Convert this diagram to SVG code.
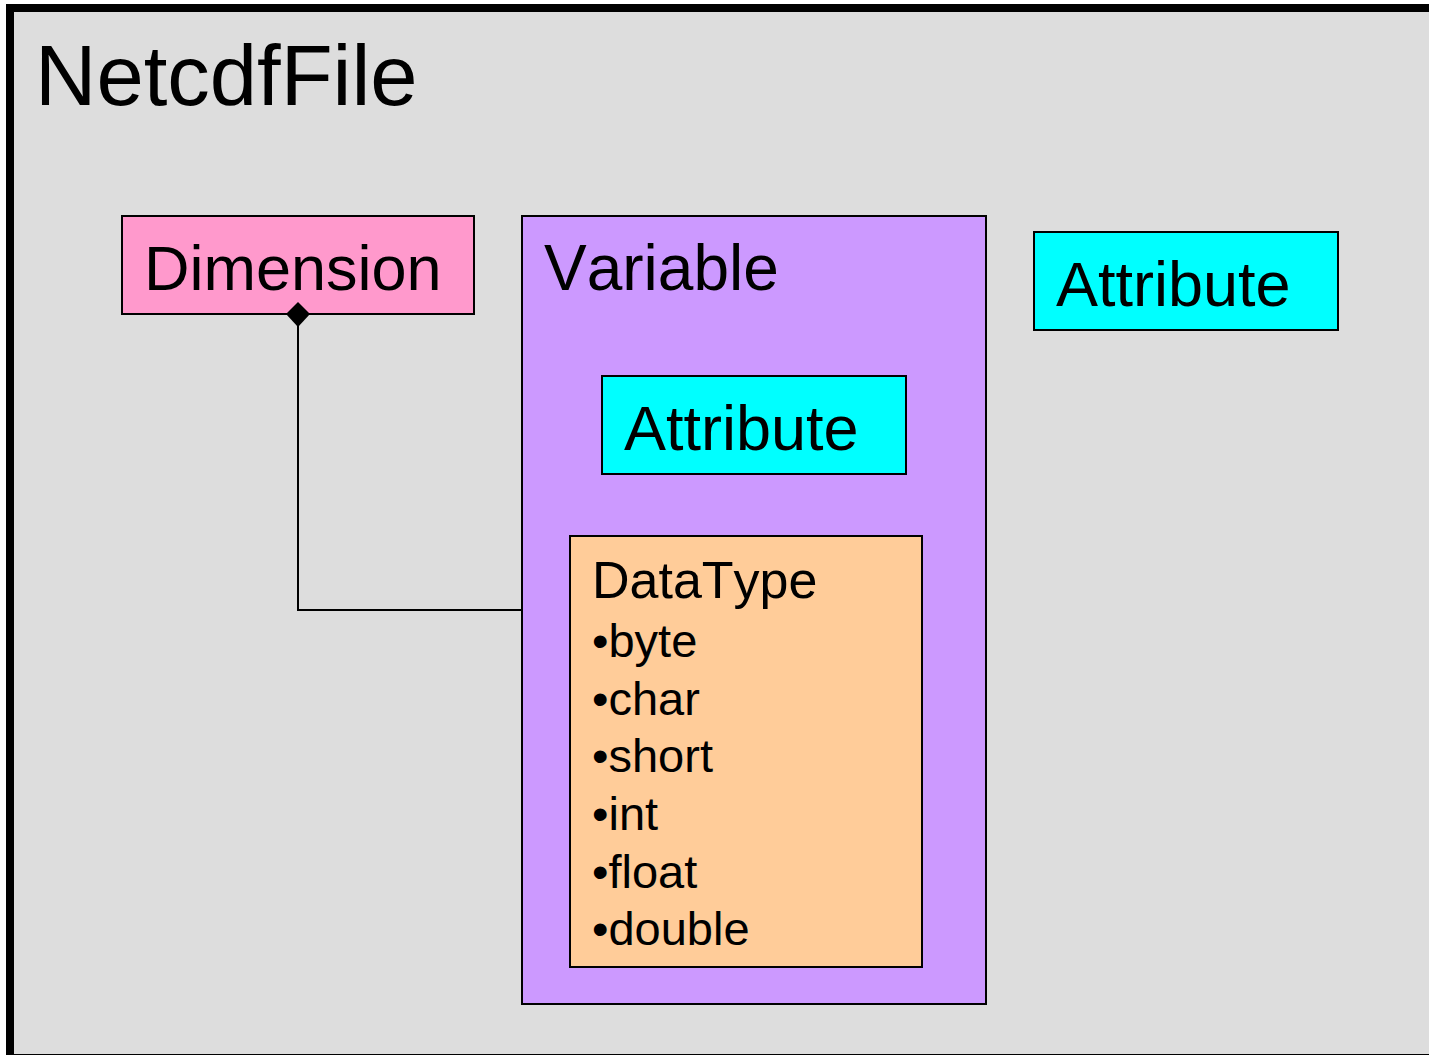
<svg xmlns="http://www.w3.org/2000/svg" width="1429" height="1055" viewBox="0 0 1429 1055">
<style>
text{font-family:"Liberation Sans",Arial,sans-serif;fill:#000;font-kerning:none}
.box{stroke:#000;stroke-width:2}
.t63{font-size:63px}
.t47{font-size:47px}
</style>
<g id="netcdffile">
<rect x="10" y="8" width="1500" height="1050" fill="#DDDDDD" stroke="#000" stroke-width="8"/>
<text x="35" y="105" style="font-size:85px">NetcdfFile</text>
</g>
<g id="connectors">
<polyline points="298,326 298,610 522,610" fill="none" stroke="#000" stroke-width="2"/>
</g>
<g id="dimension">
<rect class="box" x="122" y="216" width="352" height="98" fill="#FF99CC"/>
<text class="t63" x="144" y="290">Dimension</text>
</g>
<g id="variable">
<rect class="box" x="522" y="216" width="464" height="788" fill="#CC99FF"/>
<text x="544" y="290" style="font-size:64px">Variable</text>
</g>
<g id="var-attribute">
<rect class="box" x="602" y="376" width="304" height="98" fill="#00FFFF"/>
<text class="t63" x="624" y="450">Attribute</text>
</g>
<g id="datatype">
<rect class="box" x="570" y="536" width="352" height="431" fill="#FFCC99"/>
<text x="592" y="598" style="font-size:52px">DataType</text>
<text class="t47" x="592" y="657">•byte</text>
<text class="t47" x="592" y="715">•char</text>
<text class="t47" x="592" y="772">•short</text>
<text class="t47" x="592" y="830">•int</text>
<text class="t47" x="592" y="888">•float</text>
<text class="t47" x="592" y="945">•double</text>
</g>
<g id="attribute">
<rect class="box" x="1034" y="232" width="304" height="98" fill="#00FFFF"/>
<text class="t63" x="1056" y="306">Attribute</text>
</g>
<g id="diamond">
<polygon points="298,302 310,314 298,327 286,314" fill="#000"/>
</g>
</svg>
